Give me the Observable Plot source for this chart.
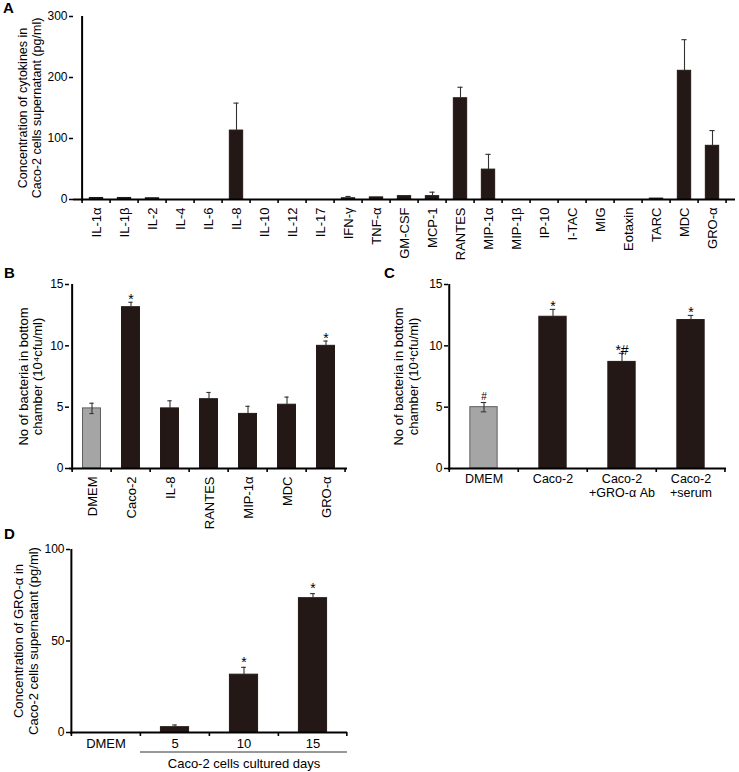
<!DOCTYPE html>
<html><head><meta charset="utf-8">
<script src="https://cdn.jsdelivr.net/npm/d3@7"></script>
<script src="https://cdn.jsdelivr.net/npm/@observablehq/plot@0.6"></script>
<style>
body{margin:0;background:#fff;}
#fig{position:relative;width:739px;height:772px;font-family:"Liberation Sans",Arial,sans-serif;background:#fff;}
#fig svg{position:absolute;overflow:visible;}
.letter{position:absolute;font-weight:bold;font-size:15px;line-height:15px;color:#000;}
</style></head><body><div id="fig"></div>
<script>
// ---------- data ----------
const catsA = ["IL-1α","IL-1β","IL-2","IL-4","IL-6","IL-8","IL-10","IL-12","IL-17","IFN-γ","TNF-α","GM-CSF","MCP-1","RANTES","MIP-1α","MIP-1β","IP-10","I-TAC","MIG","Eotaxin","TARC","MDC","GRO-α"];
const valsA = [2.5,2.5,2,0,0,113,0,0,0,2,3.5,5.5,5.5,166,49,0,0,0,0,0,1.5,211,88];
const errA  = [0,0,0,0,0,45,0,0,0,3,0,0,6.5,18,25,0,0,0,0,0,0,51,25];
const ticksA = [0,100,200,300];

const catsB = ["DMEM","Caco-2","IL-8","RANTES","MIP-1α","MDC","GRO-α"];
const valsB = [4.9,13.15,4.9,5.65,4.45,5.2,10.0];
const errB  = [0.42,0.4,0.62,0.55,0.62,0.62,0.39];
const sigB  = ["","*","","","","","*"];
const ticksB = [0,5,10,15];

const catsC = ["DMEM","Caco-2","Caco-2\n+GRO-α Ab","Caco-2\n+serum"];
const valsC = [5.0,12.37,8.69,12.1];
const errC  = [0.38,0.6,0.7,0.38];
const sigC  = ["#","*","*#","*"];
const ticksC = [0,5,10,15];

const catsD = ["DMEM","5","10","15"];
const valsD = [0,2.9,31.6,73.4];
const errD  = [0,1.2,4.0,2.5];
const sigD  = ["","","*","*"];
const ticksD = [0,50,100];

const DARK = "#231815", GREY = "#a5a5a5";
const fillsB = [GREY, DARK, DARK, DARK, DARK, DARK, DARK];
const fillsC = [GREY, DARK, DARK, DARK];

const fig = document.getElementById("fig");

function panel(o) {
  const n = o.cats.length;
  const fw = o.width - o.ml - o.mr;
  const fh = o.height - o.mt - o.mb;
  const step = fw / n;
  const inset = step * (1 - o.barFrac) / 2;
  const capInset = (step - o.capW) / 2;
  const y0 = o.yDomain[0];
  const tickLen = 4 * (o.yDomain[1] - o.yDomain[0]) / fh;
  const data = o.cats.map((c, i) => ({
    c, v: o.vals[i], e: o.errs[i],
    s: o.sig ? o.sig[i] : "",
    f: o.fills ? o.fills[i] : DARK
  }));
  const withErr = data.filter(d => d.e > 0);
  const greyErr = withErr.filter(d => d.f === GREY);
  const stars = data.filter(d => d.s && d.s.includes("*"));
  const hashes = data.filter(d => d.s === "#");
  const marks = [
    Plot.barY(data, {x: "c", y: "v", fill: "f", stroke: d => d.f === GREY ? "#5f5f5f" : DARK,
      strokeWidth: 1, insetLeft: inset, insetRight: inset}),
    Plot.ruleX(withErr, {x: "c", y1: d => d.f === GREY ? d.v - d.e : d.v, y2: d => d.v + d.e, stroke: "#333", strokeWidth: 1.1}),
    Plot.tickY(withErr, {x: "c", y: d => d.v + d.e, stroke: "#333", strokeWidth: 1.1, insetLeft: capInset, insetRight: capInset}),
    Plot.tickY(greyErr, {x: "c", y: d => d.v - d.e, stroke: "#333", strokeWidth: 1.1, insetLeft: capInset, insetRight: capInset}),
    Plot.text(stars, {x: "c", y: d => d.v + d.e, text: "s", dy: o.sigDy, fontSize: 14, fill: "#000"}),
    Plot.text(hashes, {x: "c", y: d => d.v + d.e, text: "s", dy: -6, fontSize: 10, fill: "#000"}),
    // axis lines
    Plot.ruleY([y0], {stroke: "#000", strokeWidth: 2}),
    Plot.ruleX([o.cats[0]], {y1: () => y0 - tickLen * 0.5, y2: () => o.yDomain[1], dx: -step / 2, stroke: "#000", strokeWidth: 2}),
    // category boundary ticks
    Plot.ruleX(o.cats, {x: d => d, y1: () => y0, y2: () => y0 - tickLen, dx: -step / 2, stroke: "#000", strokeWidth: 1.6}),
    Plot.ruleX([o.cats[n - 1]], {x: d => d, y1: () => y0, y2: () => y0 - tickLen, dx: step / 2 - 0.8, stroke: "#000", strokeWidth: 1.6}),
    Plot.axisY({ticks: o.yTicks, tickSize: 4, tickPadding: 2, fontSize: 12, label: null, strokeWidth: 1.5}),
    Plot.axisX({tickSize: 0, tickPadding: o.xPad, tickRotate: o.rotate, fontSize: o.xfs, label: null, lineHeight: 1.12}),
    // y title
    Plot.text([o.yLabel], {frameAnchor: "left", text: d => d, rotate: -90, dx: o.titleDx,
      textAnchor: "middle", lineAnchor: "middle", fontSize: o.tfs, lineHeight: 1.1, fill: "#000"}),
    ...(o.extra ? o.extra(step) : [])
  ];
  const p = Plot.plot({
    width: o.width, height: o.height,
    marginLeft: o.ml, marginRight: o.mr, marginTop: o.mt, marginBottom: o.mb,
    x: {domain: o.cats, padding: 0},
    y: {domain: o.yDomain},
    style: {fontFamily: '"Liberation Sans", Arial, sans-serif', color: "#000", background: "transparent", overflow: "visible"},
    marks
  });
  p.style.left = o.left + "px";
  p.style.top = o.top + "px";
  fig.appendChild(p);
}

panel({cats: catsA, vals: valsA, errs: errA, yDomain: [0, 300], yTicks: ticksA,
  left: 0, top: 0, width: 739, height: 240, ml: 73, mr: 4, mt: 16, mb: 41,
  barFrac: 0.49, capW: 6, rotate: -90, xPad: 8, xfs: 13, sigDy: -3,
  yLabel: "Concentration of cytokines in\nCaco-2 cells supernatant (pg/ml)", titleDx: -44, tfs: 12.5});

panel({cats: catsB, vals: valsB, errs: errB, sig: sigB, fills: fillsB, yDomain: [0, 15], yTicks: ticksB,
  left: 0, top: 240, width: 370, height: 270, ml: 69, mr: 23, mt: 44, mb: 42,
  barFrac: 0.47, capW: 5, rotate: -90, xPad: 8, xfs: 13, sigDy: -3,
  yLabel: "No of bacteria in bottom\nchamber (10⁴cfu/ml)", titleDx: -39, tfs: 13});

panel({cats: catsC, vals: valsC, errs: errC, sig: sigC, fills: fillsC, yDomain: [0, 15], yTicks: ticksC,
  left: 370, top: 240, width: 369, height: 270, ml: 78, mr: 13, mt: 44, mb: 42,
  barFrac: 0.40, capW: 6, rotate: 0, xPad: 5, xfs: 12.5, sigDy: -3,
  yLabel: "No of bacteria in bottom\nchamber (10⁴cfu/ml)", titleDx: -42.5, tfs: 13});

panel({cats: catsD, vals: valsD, errs: errD, sig: sigD, yDomain: [0, 100], yTicks: ticksD,
  left: 0, top: 510, width: 370, height: 262, ml: 70, mr: 23, mt: 39, mb: 40,
  barFrac: 0.41, capW: 5, rotate: 0, xPad: 5, xfs: 13, sigDy: -5,
  yLabel: "Concentration of GRO-α in\nCaco-2 cells supernatant (pg/ml)", titleDx: -44.5, tfs: 13,
  extra: () => [
    Plot.ruleY([0], {x1: () => catsD[1], x2: () => catsD[3], dy: 19.5, stroke: "#333", strokeWidth: 1}),
    Plot.text(["Caco-2 cells cultured days"], {x: () => catsD[2], y: () => 0, text: d => d, dy: 31, fontSize: 13, fill: "#000"})
  ]});

// panel letters
[["A", 3, 0], ["B", 4, 265], ["C", 384, 265], ["D", 4, 526]].forEach(([t, x, y]) => {
  const d = document.createElement("div");
  d.className = "letter";
  d.textContent = t;
  d.style.left = x + "px";
  d.style.top = y + "px";
  fig.appendChild(d);
});
</script>
</body></html>
